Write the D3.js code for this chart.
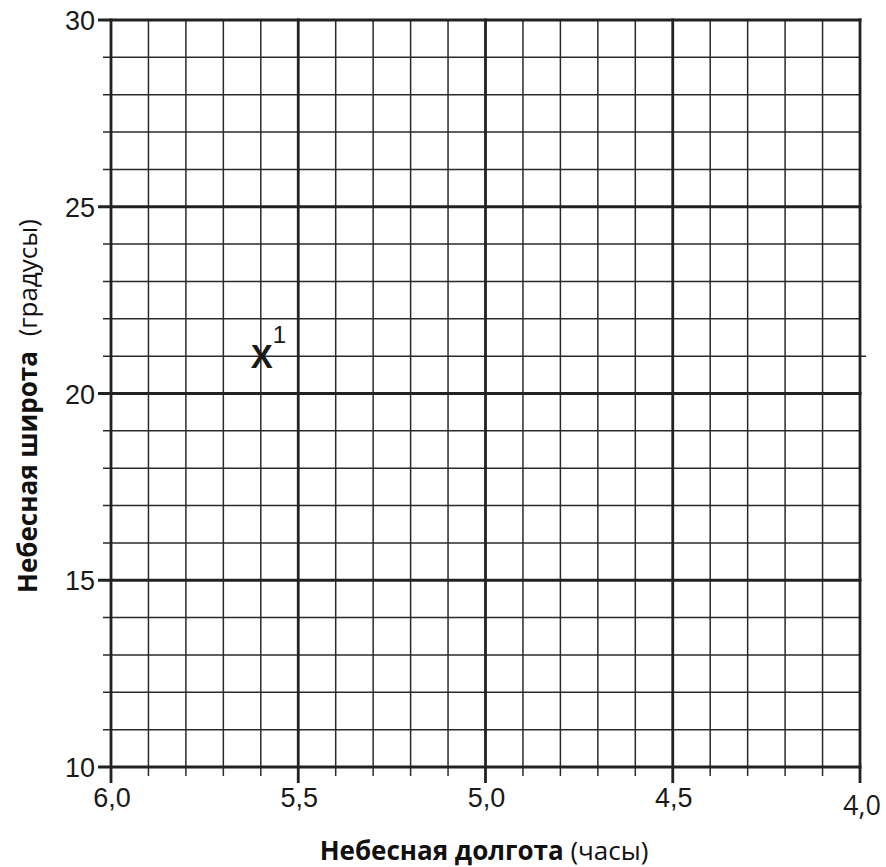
<!DOCTYPE html>
<html>
<head>
<meta charset="utf-8">
<script src="https://cdn.jsdelivr.net/npm/d3@7"></script>
<style>
  body { margin: 0; background: #fff; }
</style>
</head>
<body>
<svg id="chart" width="886" height="867"></svg>
<script>
// axis values
var xTicks = [6.0, 5.5, 5.0, 4.5, 4.0]
var xTickLabels = ["6,0", "5,5", "5,0", "4,5", "4,0"]
var yTicks = [10, 15, 20, 25, 30]
var yTickLabels = ["10", "15", "20", "25", "30"]
var xMinor = d3.range(40, 61).map(function(d) { return d / 10 })   // every 0.1 h
var yMinor = d3.range(10, 31)                                        // every degree

// the marked position
var pointX = [5.6]
var pointY = [21]
var pointLabel = ["1"]

var svg = d3.select("#chart")

var x = d3.scaleLinear().domain([6, 4]).range([111, 860])
var y = d3.scaleLinear().domain([10, 30]).range([767, 20])

var isMajorX = function(d) { return Math.abs(d * 2 - Math.round(d * 2)) < 1e-6 }
var isMajorY = function(d) { return d % 5 == 0 }

var g = svg.append("g")

// minor grid first, majors over it
g.selectAll(".vminor")
  .data(xMinor.filter(function(d) { return !isMajorX(d) }))
  .enter().append("line")
    .attr("x1", function(d) { return x(d) })
    .attr("x2", function(d) { return x(d) })
    .attr("y1", y(30))
    .attr("y2", y(10) + 9)
    .attr("stroke", "#2a2a2a")
    .attr("stroke-width", 1.5)

g.selectAll(".hminor")
  .data(yMinor.filter(function(d) { return !isMajorY(d) }))
  .enter().append("line")
    .attr("x1", x(6) - 8)
    .attr("x2", function(d) { return d == pointY[0] ? x(4) + 6 : x(4) })
    .attr("y1", function(d) { return y(d) })
    .attr("y2", function(d) { return y(d) })
    .attr("stroke", "#2a2a2a")
    .attr("stroke-width", 1.5)

g.selectAll(".hmajor")
  .data(yTicks)
  .enter().append("line")
    .attr("x1", x(6) - 13)
    .attr("x2", x(4) + 1.5)
    .attr("y1", function(d) { return y(d) })
    .attr("y2", function(d) { return y(d) })
    .attr("stroke", "#222")
    .attr("stroke-width", 2.8)

g.selectAll(".vmajor")
  .data(xTicks)
  .enter().append("line")
    .attr("x1", function(d) { return x(d) })
    .attr("x2", function(d) { return x(d) })
    .attr("y1", y(30) - 1.4)
    .attr("y2", y(10) + 16)
    .attr("stroke", "#222")
    .attr("stroke-width", 2.8)

// tick labels
svg.selectAll(".ylab")
  .data(yTicks)
  .enter().append("text")
    .attr("x", 95)
    .attr("y", function(d) { return y(d) + 10 })
    .attr("text-anchor", "end")
    .attr("font-family", "Liberation Sans, Arial, sans-serif")
    .attr("font-size", "27px")
    .attr("fill", "#1a1a1a")
    .text(function(d, i) { return yTickLabels[i] })

svg.selectAll(".xlab")
  .data(xTicks)
  .enter().append("text")
    .attr("x", function(d, i) { return x(d) + (i == xTicks.length - 1 ? 2 : 1) })
    .attr("y", function(d, i) { return i == xTicks.length - 1 ? 815 : 807 })
    .attr("text-anchor", "middle")
    .attr("font-family", function(d, i) { return i == xTicks.length - 1 ? "Open Sans, sans-serif" : "Liberation Sans, Arial, sans-serif" })
    .attr("font-size", "27px")
    .attr("fill", "#1a1a1a")
    .text(function(d, i) { return xTickLabels[i] })

// the X marker with its number
svg.selectAll(".mark")
  .data(pointX)
  .enter().append("text")
    .attr("x", function(d) { return x(d) + 1 })
    .attr("y", function(d, i) { return y(pointY[i]) + 12 })
    .attr("text-anchor", "middle")
    .attr("font-family", "Liberation Sans, Arial, sans-serif")
    .attr("font-weight", "bold")
    .attr("font-size", "33px")
    .attr("fill", "#1a1a1a")
    .text("X")

svg.selectAll(".marklab")
  .data(pointX)
  .enter().append("text")
    .attr("x", function(d) { return x(d) + 12 })
    .attr("y", function(d, i) { return y(pointY[i]) - 13 })
    .attr("font-family", "Liberation Sans, Arial, sans-serif")
    .attr("font-size", "24px")
    .attr("fill", "#1a1a1a")
    .text(function(d, i) { return pointLabel[i] })

// axis titles
var xt = svg.append("text")
    .attr("x", 484)
    .attr("y", 860)
    .attr("text-anchor", "middle")
    .attr("font-family", "Open Sans, sans-serif")
    .attr("font-size", "26px")
    .attr("fill", "#111")
xt.append("tspan").attr("font-weight", "bold").text("Небесная долгота")
xt.append("tspan").text(" (часы)")

var yt = svg.append("text")
    .attr("transform", "translate(37," + 406 + ") rotate(-90)")
    .attr("text-anchor", "middle")
    .attr("font-family", "Open Sans, sans-serif")
    .attr("font-size", "26px")
    .attr("fill", "#111")
yt.append("tspan").attr("font-weight", "bold").text("Небесная широта")
yt.append("tspan").attr("dx", 8).text(" (градусы)")
</script>
</body>
</html>
